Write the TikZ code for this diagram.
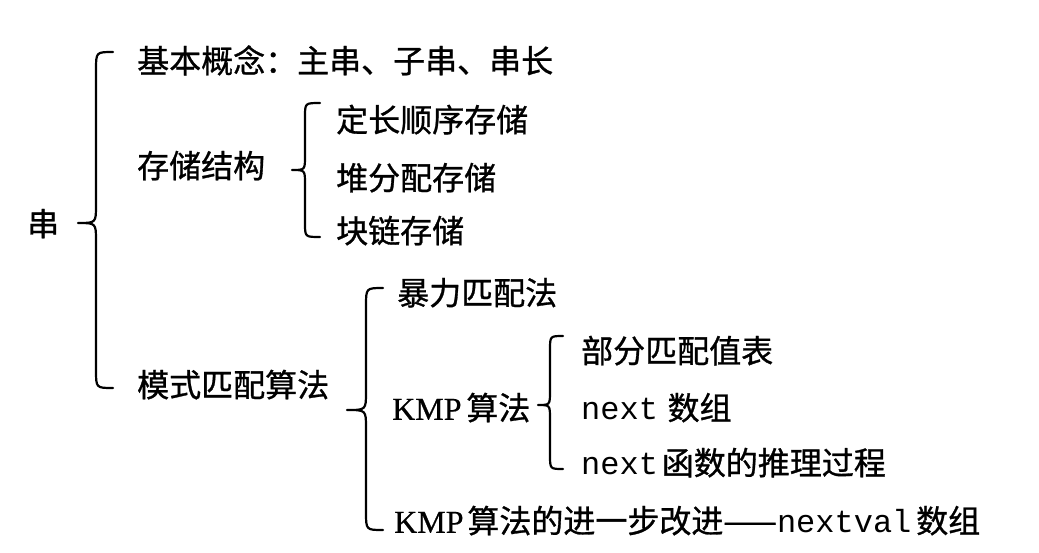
\documentclass[tikz,border=0pt]{standalone}
\usepackage{fontspec}
\setmainfont{Liberation Serif}[FakeBold=0.6]
\setmonofont{Liberation Mono}
\newfontfamily\cjk{Noto Sans CJK SC}[FakeBold=0.9]
\newcommand{\mybrace}[7]{% xe yt xv xtip ym yb h
  \draw[bracestyle] (#1,#2) .. controls (#3,#2) .. (#3,#2+#7) -- (#3,#5-#7)
    .. controls (#3,#5) .. (#4,#5) .. controls (#3,#5) .. (#3,#5+#7)
    -- (#3,#6-#7) .. controls (#3,#6) .. (#1,#6);}
\tikzset{
  lbl/.style={anchor=west, inner sep=0pt, text height=0.76em, text depth=0pt,
    yshift=-8pt, font=\fontsize{32}{36}\selectfont\cjk},
  bracestyle/.style={line width=2.2pt, line cap=round, line join=round},
}
\begin{document}
\begin{tikzpicture}[x=1pt,y=-1pt]
\path[use as bounding box, fill=white] (0,0) rectangle (1039,552);
\node[lbl] (chuan) at (27,224) {串};
\node[lbl] (jiben) at (137,61) {基本概念：主串、子串、串长};
\node[lbl] (cunchu) at (137,166) {存储结构};
\node[lbl] (moshi) at (137,385) {模式匹配算法};
\node[lbl] (dingchang) at (336,120) {定长顺序存储};
\node[lbl] (dui) at (336,178) {堆分配存储};
\node[lbl] (kuai) at (336,231) {块链存储};
\node[lbl] (baoli) at (397,293) {暴力匹配法};
\node[lbl] (kmp) at (392,408) {{\rmfamily KMP}\hspace{0.15em}算法};
\node[lbl] (kmpimp) at (394,521) {{\rmfamily KMP}\hspace{0.12em}算法的进一步改进——{\ttfamily nextval}\hspace{0.15em}数组};
\node[lbl] (bufen) at (581,351) {部分匹配值表};
\node[lbl] (nextarr) at (581,408) {{\ttfamily next}\hspace{0.3em}数组};
\node[lbl] (nextfun) at (581,463) {{\ttfamily next}\hspace{0.12em}函数的推理过程};
\mybrace{113}{52}{96}{78}{223}{388}{18}
\mybrace{320}{103}{305}{292}{170}{237}{14}
\mybrace{383}{288}{366}{347}{410}{530}{18}
\mybrace{563}{336}{550}{538}{405}{469}{14}
\end{tikzpicture}
\end{document}
